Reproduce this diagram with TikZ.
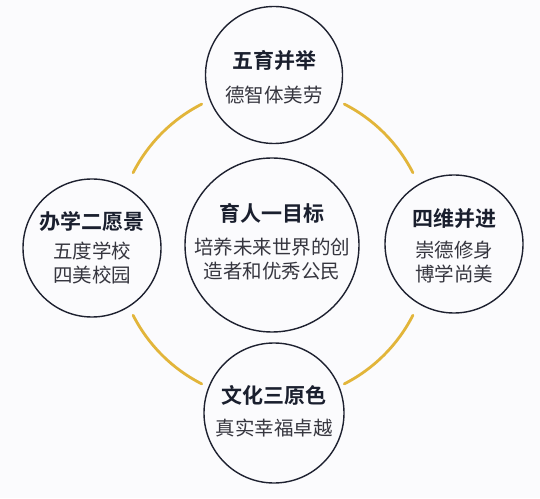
\documentclass[tikz,border=0pt]{standalone}
\usepackage{fontspec}
\newfontfamily\cjk{Noto Sans CJK SC}[BoldFont={Noto Sans CJK SC Bold}]
\definecolor{ringcol}{HTML}{1E2130}
\definecolor{titlecol}{HTML}{1A1F2E}
\definecolor{subcol}{HTML}{36363F}
\definecolor{gold}{HTML}{E2B53A}
\definecolor{bg}{HTML}{FBFBFD}
\begin{document}
\begin{tikzpicture}[x=1pt,y=1pt,
  ring/.style={circle,draw=ringcol,line width=1.4pt,minimum size=#1,inner sep=0pt},
  ttl/.style={font=\cjk\bfseries\fontsize{21}{24}\selectfont,text=titlecol,inner sep=0pt},
  sub/.style={font=\cjk\fontsize{19.5}{24}\selectfont,text=subcol,align=center,inner sep=0pt},
  link/.style={draw=gold,line width=2.8pt,line cap=round}]
\fill[bg] (0,0) rectangle (540,498);
\useasboundingbox (0,0) rectangle (540,498);
\coordinate (O) at (273,254);
% gold connecting arcs
\draw[link] ([shift={(117:157pt)}]O) arc[start angle=117,end angle=153,radius=157pt];
\draw[link] ([shift={(27:157pt)}]O) arc[start angle=27,end angle=63,radius=157pt];
\draw[link] ([shift={(207:157pt)}]O) arc[start angle=207,end angle=243,radius=157pt];
\draw[link] ([shift={(297:157pt)}]O) arc[start angle=297,end angle=333,radius=157pt];
% circles
\node[ring=137pt,fill=bg] (top) at (274,423) {};
\node[ring=174pt,fill=bg] (mid) at (272,253) {};
\node[ring=138pt,fill=bg] (lft) at (92,250) {};
\node[ring=138pt,fill=bg] (rgt) at (454,254) {};
\node[ring=140pt,fill=bg] (bot) at (274,85) {};
% texts
\node[ttl] (topT) at ([yshift=15pt]top.center) {五育并举};
\node[sub] (topS) at ([yshift=-20pt]top.center) {德智体美劳};
\node[ttl] (midT) at ([yshift=32pt]mid.center) {育人一目标};
\node[sub] (midS) at ([yshift=-14.5pt]mid.center) {培养未来世界的创\\造者和优秀公民};
\node[ttl] (lftT) at ([yshift=26pt]lft.center) {办学二愿景};
\node[sub] (lftS) at ([yshift=-15.5pt]lft.center) {五度学校\\四美校园};
\node[ttl] (rgtT) at ([yshift=25pt]rgt.center) {四维并进};
\node[sub] (rgtS) at ([yshift=-18.5pt]rgt.center) {崇德修身\\博学尚美};
\node[ttl] (botT) at ([yshift=18pt]bot.center) {文化三原色};
\node[sub] (botS) at ([yshift=-15pt]bot.center) {真实幸福卓越};
\end{tikzpicture}
\end{document}
